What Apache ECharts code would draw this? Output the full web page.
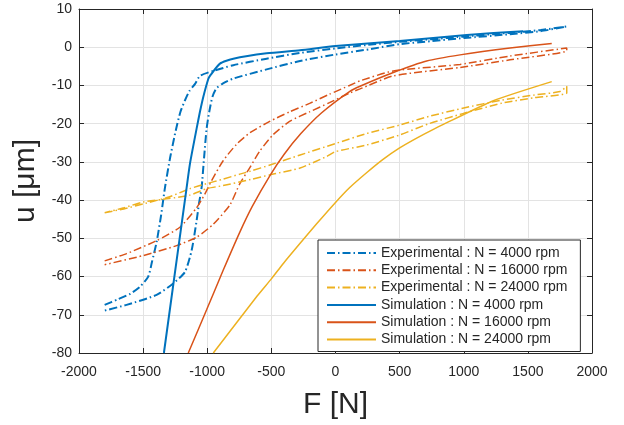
<!DOCTYPE html>
<html>
<head>
<meta charset="utf-8">
<script src="https://cdn.jsdelivr.net/npm/echarts@6/dist/echarts.min.js"></script>
<style>
html,body{margin:0;padding:0;background:#fff;}
#chart{width:624px;height:425px;}
</style>
</head>
<body>
<div id="chart"></div>
<script>
// ---- data (F in N, u in µm) ----
const seriesNames = [
  'Experimental : N = 4000 rpm',
  'Experimental : N = 16000 rpm',
  'Experimental : N = 24000 rpm',
  'Simulation : N = 4000 rpm',
  'Simulation : N = 16000 rpm',
  'Simulation : N = 24000 rpm'
];
const xTicks = [-2000, 2000, 500];
const yTicks = [-80, 10, 10];

// Experimental 4000 rpm: loading branch then unloading branch
const exp4000F = [-1800,-1700,-1600,-1525,-1460,-1430,-1395,-1360,-1330,-1290,-1245,-1210,-1175,-1140,-1095,-1057,-953,-797,-537,-277,0,250,500,1000,1360,1600,1800,
                  1800,1600,1360,1000,750,500,269,0,-277,-537,-797,-880,-930,-960,-985,-1005,-1025,-1044,-1065,-1083,-1122,-1174,-1265,-1395,-1629,-1800];
const exp4000U = [-67.4,-66,-64.5,-62.7,-60,-56,-51,-44,-36.8,-29,-21.7,-17,-14,-11.5,-9.6,-7.5,-6.2,-4.7,-3.0,-1.5,-0.3,0.6,1.4,2.8,3.8,4.5,5.4,
                  5.3,4.2,3.4,2.4,1.6,0.8,-0.5,-1.9,-3.6,-5.8,-8.2,-9.5,-10.8,-13,-17,-21.3,-29,-36.7,-41,-45.4,-53.2,-58.8,-61.8,-64.8,-67.4,-68.9];

// Experimental 16000 rpm
const exp16000F = [-1800,-1629,-1395,-1213,-1083,-1020,-966,-876,-772,-668,-513,-358,-202,-47,109,191,451,971,1361,1803,
                   1803,1361,971,451,191,109,-47,-202,-358,-487,-591,-668,-746,-824,-953,-1083,-1239,-1499,-1800];
const exp16000U = [-55.9,-54,-50.6,-47.1,-42,-38.5,-34.9,-29.7,-25.4,-22.4,-19.4,-16.9,-14.7,-12.3,-10,-8.8,-6.2,-4.5,-2.3,-0.2,
                   -0.9,-3.3,-5.3,-7.5,-10.9,-12,-14.5,-16.9,-19.4,-22.9,-27.2,-31.5,-35.7,-41.3,-46.3,-49.7,-51.9,-54.5,-56.9];

// Experimental 24000 rpm
const exp24000F = [-1800,-1650,-1500,-1300,-1135,-1005,-876,-746,-662,-500,-276,0,240,497,729,1000,1300,1550,1750,1803,
                   1803,1550,1300,1000,729,497,240,0,-70,-276,-500,-662,-876,-1005,-1135,-1300,-1500,-1650,-1800];
const exp24000U = [-43.3,-42.3,-41,-39.2,-37,-35.7,-34.5,-33.2,-32.4,-30.7,-28.2,-25.2,-22.6,-20.4,-18.1,-15.9,-13.8,-12.5,-11.6,-10.2,
                   -12,-13.2,-14.6,-17.3,-20,-23,-25.6,-27.3,-28.6,-31.6,-33.3,-34.6,-36.2,-37,-38.7,-39.6,-40.5,-42,-43.3];

// Simulations
const sim4000F = [-1338,-1161,-1135,-1083,-1057,-1031,-992,-979,-901,-797,-537,-277,0,500,1023,1463];
const sim4000U = [-80,-36.8,-30.5,-21.3,-16.9,-13,-8.3,-7.5,-4.3,-3.0,-1.6,-0.8,0.3,1.6,3.2,4.2];

const sim16000F = [-1148,-1005,-875,-745,-650,-510,-400,-270,-110,109,191,451,711,971,1361,1686];
const sim16000U = [-80,-68.7,-58.3,-48.3,-41.7,-33.5,-28,-22.6,-17.2,-11.6,-10.2,-6.6,-3.6,-2.0,-0.2,1.0];

const sim24000F = [-953,-611,-500,-405,-276,-147,0,111,240,368,497,626,729,841,1231,1686];
const sim24000U = [-80,-65.1,-60.6,-56.5,-51.3,-46.2,-40.6,-36.7,-32.9,-29.4,-26.4,-23.9,-22.1,-20.2,-14,-9.0];

// ---- styling ----
const colors = ['#0072BD', '#D95319', '#EDB120'];
const txt = '#262626';
const font = 'Liberation Sans, Arial, Helvetica, sans-serif';
const dashDot = [8, 3, 1.5, 3];

function zip(F, U) { return F.map((f, i) => [f, U[i]]); }

const dataSets = [
  zip(exp4000F, exp4000U), zip(exp16000F, exp16000U), zip(exp24000F, exp24000U),
  zip(sim4000F, sim4000U), zip(sim16000F, sim16000U), zip(sim24000F, sim24000U)
];

const series = dataSets.map((d, i) => ({
  name: seriesNames[i],
  type: 'line',
  data: d,
  xAxisIndex: 0,
  yAxisIndex: 0,
  symbol: 'none',
  showSymbol: false,
  smooth: 0.2,
  clip: true,
  animation: false,
  lineStyle: {
    color: colors[i % 3],
    width: (i % 3 === 0) ? 2 : 1.5,
    type: i < 3 ? dashDot : 'solid'
  },
  itemStyle: { color: colors[i % 3] },
  z: i < 3 ? 2 : 3
}));

function valueAxis(pos, range, extra) {
  return Object.assign({
    type: 'value',
    position: pos,
    min: range[0], max: range[1], interval: range[2],
    axisLine: { show: true, onZero: false, lineStyle: { color: txt, width: 1 } },
    axisTick: { show: true, inside: true, length: 5, lineStyle: { color: txt, width: 1 } },
    splitLine: { show: false },
    axisLabel: { show: false }
  }, extra || {});
}

const plain = v => String(v);

const option = {
  animation: false,
  backgroundColor: '#ffffff',
  textStyle: { fontFamily: font, color: txt },
  grid: { left: 79, right: 32, top: 9, bottom: 68, containLabel: false },
  xAxis: [
    valueAxis('bottom', xTicks, {
      splitLine: { show: true, lineStyle: { color: '#e3e3e3', width: 1 } },
      axisLabel: { show: true, color: txt, fontSize: 14, fontFamily: font, margin: 12, formatter: plain },
      name: 'F [N]', nameLocation: 'middle', nameGap: 37,
      nameTextStyle: { fontSize: 30, color: txt, fontFamily: font }
    }),
    valueAxis('top', xTicks)
  ],
  yAxis: [
    valueAxis('left', yTicks, {
      splitLine: { show: true, lineStyle: { color: '#e3e3e3', width: 1 } },
      axisLabel: { show: true, color: txt, fontSize: 14, fontFamily: font, margin: 7, formatter: plain },
      name: 'u [μm]', nameLocation: 'middle', nameGap: 30, nameRotate: 90,
      nameTextStyle: { fontSize: 30, color: txt, fontFamily: font }
    }),
    valueAxis('right', yTicks)
  ],
  legend: {
    show: true,
    orient: 'vertical',
    left: 318, top: 240,
    padding: [6, 13, 5, 8],
    itemWidth: 49, itemHeight: 14, itemGap: 3.3,
    backgroundColor: '#ffffff',
    borderColor: txt, borderWidth: 1, borderRadius: 0,
    itemStyle: { opacity: 0 },
    data: seriesNames,
    textStyle: { fontSize: 14, color: txt, fontFamily: font, lineHeight: 14 }
  },
  series: series
};

const chart = echarts.init(document.getElementById('chart'), null, { renderer: 'canvas' });
chart.setOption(option);
</script>
</body>
</html>
